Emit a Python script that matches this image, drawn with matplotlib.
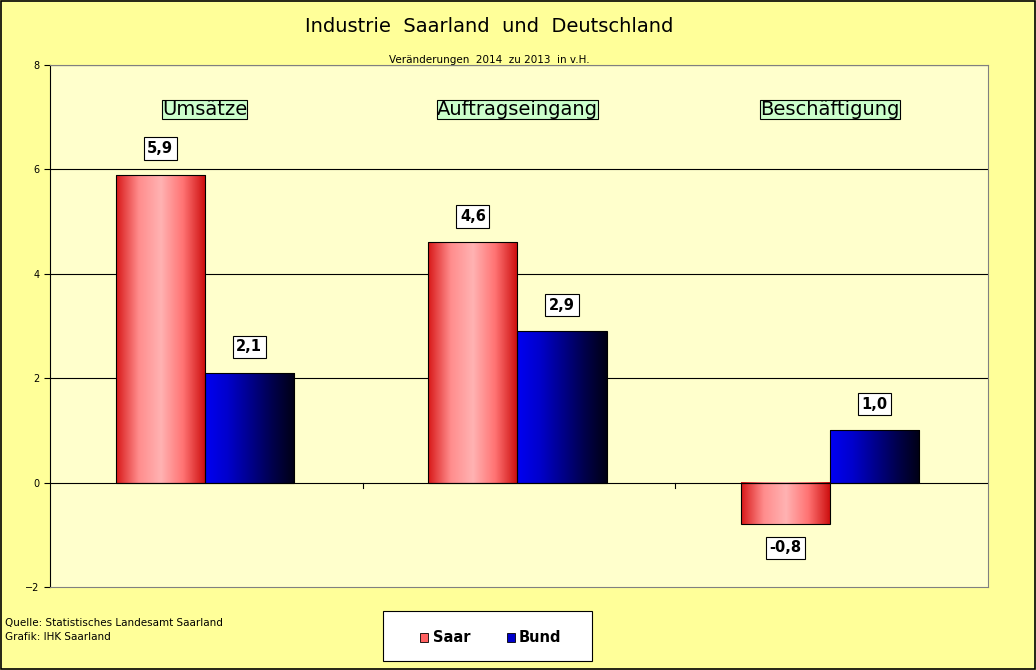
import numpy as np
import matplotlib.pyplot as plt
from matplotlib.patches import Rectangle

categories = ['Umsätze', 'Auftragseingang', 'Beschäftigung']
saar = [5.9, 4.6, -0.8]
bund = [2.1, 2.9, 1.0]
labels_saar = ['5,9', '4,6', '-0,8']
labels_bund = ['2,1', '2,9', '1,0']

W, H = 1036, 670
fig = plt.figure(figsize=(W / 100, H / 100), dpi=100, facecolor='#FFFF99')
# outer border
fig.patches.append(Rectangle((0.001, 0.001), 0.998, 0.998, transform=fig.transFigure,
                             fill=False, edgecolor='black', lw=1.2))

ax = fig.add_axes([50 / W, 1 - 587 / H, (988 - 50) / W, (587 - 65) / H])
ax.set_facecolor('#FFFFCC')
ax.set_xlim(0, 3)
ax.set_ylim(-2, 8)

for y in (2, 4, 6, 8):
    ax.axhline(y, color='black', lw=0.8, zorder=1)
ax.axhline(0, color='black', lw=0.8, zorder=4)

bw = 0.285
red_grad = np.array([[0.85, 0.1, 0.1], [1.0, 0.55, 0.55], [1.0, 0.7, 0.7],
                     [1.0, 0.45, 0.45], [0.8, 0.05, 0.05]])
blue_grad = np.array([[0.0, 0.0, 0.95], [0.0, 0.0, 0.8], [0.0, 0.0, 0.55],
                      [0.0, 0.0, 0.3], [0.0, 0.0, 0.08]])


def grad_bar(x0, val, grad):
    img = np.interp(np.linspace(0, 1, 100), np.linspace(0, 1, len(grad)), np.arange(len(grad)))
    cols = np.array([[np.interp(i, np.arange(len(grad)), grad[:, c]) for c in range(3)] for i in img])
    y0, y1 = sorted((0, val))
    ax.imshow(cols[None, :, :], extent=(x0, x0 + bw, y0, y1), aspect='auto', zorder=2)
    ax.add_patch(Rectangle((x0, y0), bw, y1 - y0, fill=False, edgecolor='black', lw=0.8, zorder=3))


box = dict(boxstyle='square,pad=0.25', facecolor='white', edgecolor='black', lw=0.8)
for i, (s, b) in enumerate(zip(saar, bund)):
    c = i + 0.495
    grad_bar(c - bw, s, red_grad)
    grad_bar(c, b, blue_grad)
    ys = s + 0.5 if s >= 0 else s - 0.45
    ax.text(c - bw / 2, ys, labels_saar[i], ha='center', va='center', fontsize=10.5,
            fontweight='bold', bbox=box, zorder=5)
    ax.text(c + bw / 2, b + 0.5, labels_bund[i], ha='center', va='center', fontsize=10.5,
            fontweight='bold', bbox=box, zorder=5)
    ax.text(c, 7.15, categories[i], ha='center', va='center', fontsize=14, zorder=5,
            bbox=dict(boxstyle='square,pad=0', facecolor='#CCFFCC', edgecolor='black', lw=0.8))

# fixed-size category boxes via bbox padding around text is uneven; draw rectangles instead
for t in list(ax.texts)[-0:]:
    pass

ax.set_yticks(range(-2, 9, 2))
ax.tick_params(axis='y', labelsize=7, length=4, direction='out')
ax.set_xticks([])
for xb in (1, 2):
    ax.plot([xb, xb], [0, -0.1], color='black', lw=0.8, zorder=4)
for sp in ax.spines.values():
    sp.set_color('#808080')
    sp.set_linewidth(0.8)
ax.spines['left'].set_color('black')

fig.text(489 / W, 1 - 26 / H, 'Industrie  Saarland  und  Deutschland', ha='center', va='center', fontsize=14)
fig.text(489 / W, 1 - 60 / H, 'Veränderungen  2014  zu 2013  in v.H.', ha='center', va='center', fontsize=7.5)
fig.text(5 / W, 1 - 623 / H, 'Quelle: Statistisches Landesamt Saarland', ha='left', va='center', fontsize=7.5)
fig.text(5 / W, 1 - 637 / H, 'Grafik: IHK Saarland', ha='left', va='center', fontsize=7.5)

# legend
fig.patches.append(Rectangle((383 / W, 1 - 661 / H), 209 / W, 50 / H, transform=fig.transFigure,
                             facecolor='white', edgecolor='black', lw=0.8))
fig.patches.append(Rectangle((420 / W, 1 - 642 / H), 8 / W, 9 / H, transform=fig.transFigure,
                             facecolor='#FF6060', edgecolor='black', lw=0.6))
fig.patches.append(Rectangle((507 / W, 1 - 642 / H), 8 / W, 9 / H, transform=fig.transFigure,
                             facecolor='#0000CC', edgecolor='black', lw=0.6))
fig.text(433 / W, 1 - 637 / H, 'Saar', ha='left', va='center', fontsize=10.5, fontweight='bold')
fig.text(519 / W, 1 - 637 / H, 'Bund', ha='left', va='center', fontsize=10.5, fontweight='bold')

fig.savefig('out.png', dpi=100, facecolor=fig.get_facecolor())
